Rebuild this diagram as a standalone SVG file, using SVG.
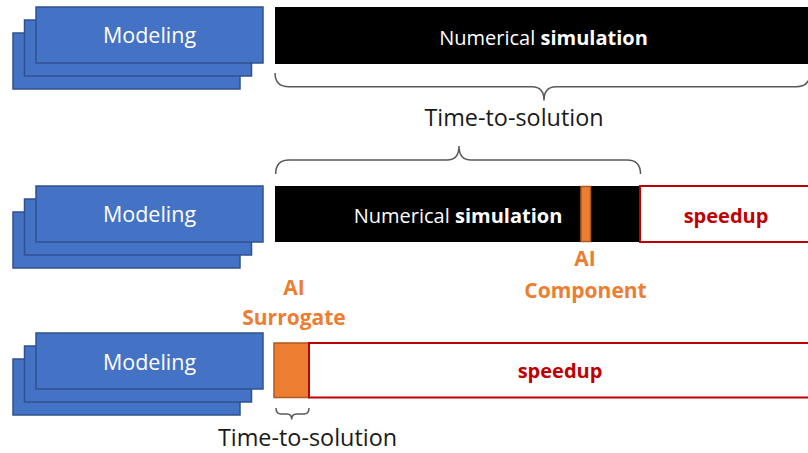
<svg xmlns="http://www.w3.org/2000/svg" width="808" height="453" viewBox="0 0 808 453">
<style>
.card{fill:#4472C4;stroke:#2F528F;stroke-width:1.5}
.mt{font-family:"Open Sans","Liberation Sans",sans-serif;font-size:21.5px;fill:#FFFFFF;text-anchor:middle}
.sim{font-family:"Open Sans","Liberation Sans",sans-serif;font-size:20px;fill:#FFFFFF;text-anchor:middle}
.b{font-weight:bold}
.sp{font-family:"Open Sans","Liberation Sans",sans-serif;font-size:20px;font-weight:bold;fill:#C00000;text-anchor:middle}
.ai{font-family:"Open Sans","Liberation Sans",sans-serif;font-size:21px;font-weight:bold;fill:#ED7D31;text-anchor:middle}
.tts{font-family:"Open Sans","Liberation Sans",sans-serif;font-size:23.4px;fill:#1A1A1A;text-anchor:middle}
.brace{fill:none;stroke:#595959;stroke-width:1.5}
.black{fill:#000000}
.red{fill:#FFFFFF;stroke:#C00000;stroke-width:2}
.orange{fill:#ED7D31;stroke:#AE5A21;stroke-width:1.5}
</style>

<g id="modeling-1">
<rect class="card" x="13" y="33" width="227" height="56"/>
<rect class="card" x="24.5" y="20" width="227" height="56"/>
<rect class="card" x="36" y="7" width="227" height="56"/>
<text class="mt" x="149.5" y="43">Modeling</text>
</g>
<g id="simulation-1">
<rect class="black" x="275" y="7" width="540" height="57"/>
<text class="sim" x="543.5" y="44.5">Numerical <tspan class="b">simulation</tspan></text>
</g>

<g id="modeling-2">
<rect class="card" x="13" y="212" width="227" height="56"/>
<rect class="card" x="24.5" y="199" width="227" height="56"/>
<rect class="card" x="36" y="186" width="227" height="56"/>
<text class="mt" x="149.5" y="222">Modeling</text>
</g>
<g id="simulation-2">
<rect class="black" x="275" y="186" width="365" height="56"/>
<text class="sim" x="458" y="222.5">Numerical <tspan class="b">simulation</tspan></text>
</g>
<g id="ai-component">
<rect class="orange" x="581" y="186.5" width="9.5" height="55"/>
<text class="ai" x="585" y="266">AI</text>
<text class="ai" x="585.5" y="297.5">Component</text>
</g>
<g id="speedup-2">
<rect class="red" x="640" y="186" width="175" height="56"/>
<text class="sp" x="726" y="223">speedup</text>
</g>

<g id="modeling-3">
<rect class="card" x="13" y="359" width="227" height="56"/>
<rect class="card" x="24.5" y="346" width="227" height="56"/>
<rect class="card" x="36" y="333" width="227" height="56"/>
<text class="mt" x="149.5" y="370">Modeling</text>
</g>
<g id="ai-surrogate">
<rect class="orange" x="274" y="343" width="35" height="54.5"/>
<text class="ai" x="294" y="295">AI</text>
<text class="ai" x="294" y="325">Surrogate</text>
</g>
<g id="speedup-3">
<rect class="red" x="309" y="343" width="506" height="54.5"/>
<text class="sp" x="560" y="378">speedup</text>
</g>

<g id="connectors">
<path class="brace" d="M275,73 Q275,86.7 289,86.7 L532,86.7 Q544,86.7 544,100.5 Q544,86.7 556,86.7 L796,86.7 Q810,86.7 810,73"/>
<path class="brace" d="M275.7,174 Q275.7,160 289,160 L447,160 Q459,160 459,146 Q459,160 471,160 L627,160 Q640.5,160 640.5,174"/>
<path class="brace" d="M276,408 Q276,414 281,414 L287,414 Q291.7,414 291.7,419.5 Q291.7,414 296.5,414 L304,414 Q309,414 309,408"/>
</g>

<g id="labels">
<text class="tts" x="514" y="125.5">Time-to-solution</text>
<text class="tts" x="307.5" y="446">Time-to-solution</text>
</g>
</svg>
